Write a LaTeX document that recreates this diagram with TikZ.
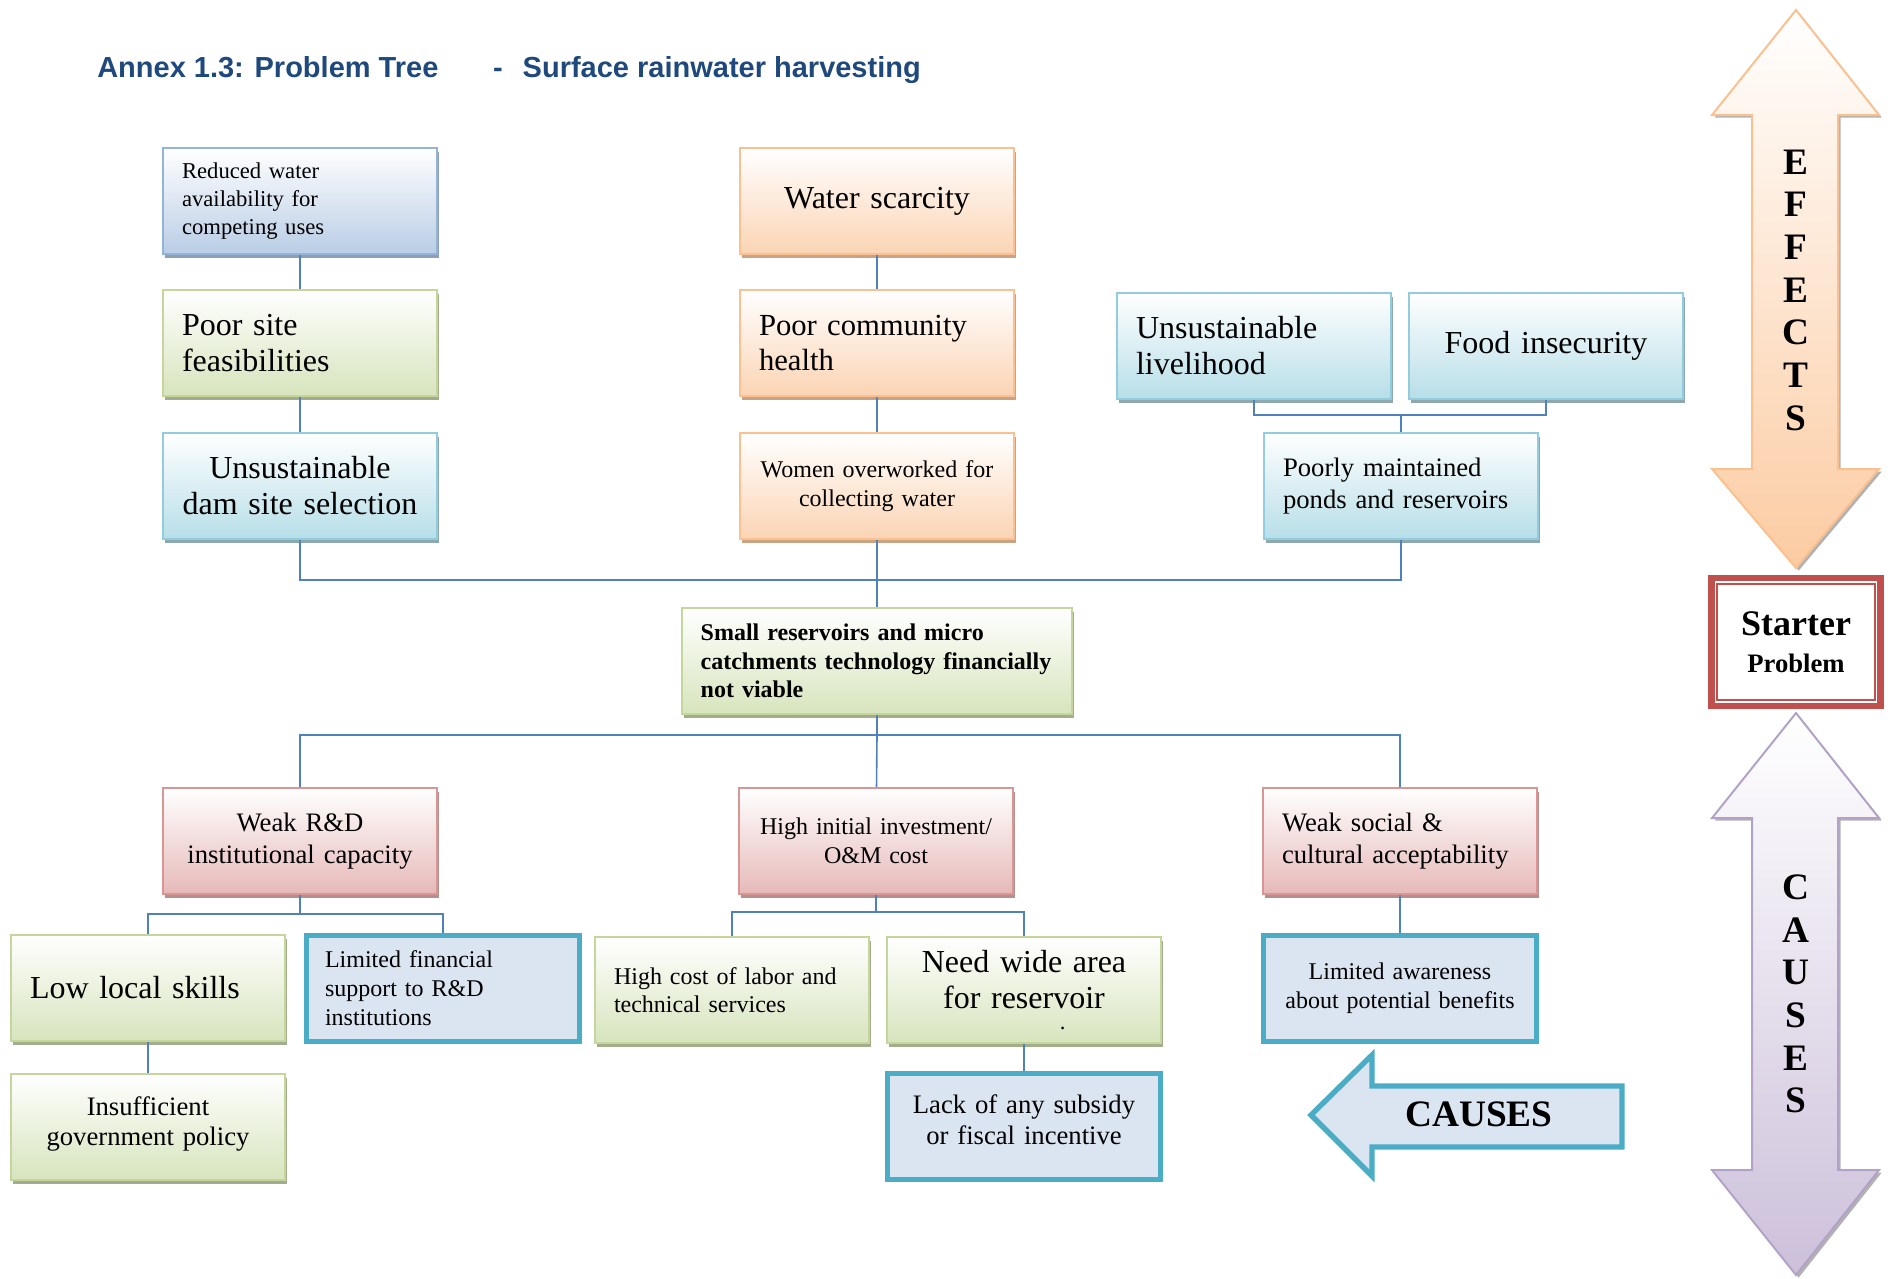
\documentclass[tikz,border=0pt]{standalone}
\usepackage{fontspec}
\setmainfont{Liberation Serif}
\newfontfamily\headfont{Liberation Sans}
\usetikzlibrary{
    shadows,
    calc
}

\definecolor{lnk}{HTML}{4F81BD}
\definecolor{titleblue}{HTML}{1F497D}
\definecolor{blueB}{HTML}{95B3D7}
\definecolor{blueF}{HTML}{B9CDE5}
\definecolor{blueS}{HTML}{8D9FB5}
\definecolor{greenB}{HTML}{C3D69B}
\definecolor{greenF}{HTML}{D7E4BD}
\definecolor{greenS}{HTML}{A4AC8E}
\definecolor{aquaB}{HTML}{93CDDD}
\definecolor{aquaF}{HTML}{B7DEE8}
\definecolor{aquaS}{HTML}{8EA8B0}
\definecolor{orangeB}{HTML}{FAC090}
\definecolor{orangeF}{HTML}{FBD4B4}
\definecolor{orangeS}{HTML}{C9A383}
\definecolor{redB}{HTML}{D99694}
\definecolor{redF}{HTML}{E6B9B8}
\definecolor{redS}{HTML}{B38F8E}
\definecolor{paleF}{HTML}{DBE5F1}
\definecolor{tealB}{HTML}{4BACC6}
\definecolor{purpleB}{HTML}{B3A2C7}
\definecolor{purpleF}{HTML}{CCC0DA}
\definecolor{starred}{HTML}{C0504D}

\newcommand\sizeL{\fontsize{24pt}{27pt}\selectfont}
\newcommand\sizeM{\fontsize{20pt}{24pt}\selectfont}
\newcommand\sizeS{\fontsize{18pt}{21.5pt}\selectfont}
\newcommand\sizeT{\fontsize{17pt}{21pt}\selectfont}

\tikzset{
    box/.style={draw, line width=1.5pt, minimum width=205pt, minimum height=79.5pt,
        text width=177pt, inner xsep=14pt, inner ysep=3pt},
    bluebox/.style={box, draw=blueB, top color=white, bottom color=blueF,
        drop shadow={shadow xshift=1.5pt, shadow yshift=-3pt, opacity=1, fill=blueS}},
    greenbox/.style={box, draw=greenB, top color=white, bottom color=greenF,
        drop shadow={shadow xshift=1.5pt, shadow yshift=-3pt, opacity=1, fill=greenS}},
    aquabox/.style={box, draw=aquaB, top color=white, bottom color=aquaF,
        drop shadow={shadow xshift=1.5pt, shadow yshift=-3pt, opacity=1, fill=aquaS}},
    orangebox/.style={box, draw=orangeB, top color=white, bottom color=orangeF,
        drop shadow={shadow xshift=1.5pt, shadow yshift=-3pt, opacity=1, fill=orangeS}},
    redbox/.style={box, draw=redB, top color=white, bottom color=redF,
        drop shadow={shadow xshift=1.5pt, shadow yshift=-3pt, opacity=1, fill=redS}},
    palebox/.style={box, draw=tealB, line width=3.75pt, fill=paleF},
    link/.style={draw=lnk, line width=1.2pt},
    bigarrow/.style={line width=1.5pt, line join=miter,
        drop shadow={shadow xshift=2pt, shadow yshift=-2pt, opacity=1, fill=black!30}},
    arrowtext/.style={font=\bfseries\fontsize{28pt}{32pt}\selectfont, align=center, inner sep=0pt}
}

\begin{document}
\begin{tikzpicture}[x=0.75pt, y=-0.75pt]
    \useasboundingbox (0,0) rectangle (1895,1278);

    \node[anchor=west, inner sep=0pt, text=titleblue,
        font=\headfont\bfseries\fontsize{21.75pt}{26pt}\selectfont] (title) at (97,70)
        {Annex 1.3: Problem Tree\hspace{41pt}-\hspace{15pt}Surface rainwater harvesting};

    \node[bluebox, align=left, font=\sizeT] (reduced) at (300,201) {Reduced water\\availability for\\competing uses};
    \node[greenbox, align=left, font=\sizeL] (site) at (300,343) {Poor site\\feasibilities};
    \node[aquabox, align=center, font=\sizeL] (dam) at (300,486) {Unsustainable\\dam site selection};

    \node[orangebox, align=center, font=\sizeL] (scarcity) at (877,201) {Water scarcity};
    \node[orangebox, align=left, font=\fontsize{23pt}{26.5pt}\selectfont] (health) at (877,343) {Poor community\\health};
    \node[orangebox, align=center, font=\sizeS] (women) at (877,486) {Women overworked for\\collecting water};

    \node[aquabox, align=left, font=\sizeL] (livelihood) at (1254,346) {Unsustainable\\livelihood};
    \node[aquabox, align=center, font=\sizeL] (food) at (1546,346) {Food insecurity};
    \node[aquabox, align=left, font=\sizeM] (ponds) at (1401,486) {Poorly maintained\\ponds and reservoirs};

    \node[greenbox, align=left, font=\bfseries\sizeS, minimum width=292.5pt, text width=264.5pt]
        (core) at (877,661) {Small reservoirs and micro\\catchments technology financially\\not viable};

    \node[redbox, align=center, font=\sizeM] (weakrd) at (300,841) {Weak R\&D\\institutional capacity};
    \node[redbox, align=center, font=\sizeS] (invest) at (876,841) {High initial investment/\\O\&M cost};
    \node[redbox, align=left, font=\sizeM] (social) at (1400,841) {Weak social \&\\cultural acceptability};

    \node[greenbox, align=left, font=\sizeL] (skills) at (148,988) {Low local skills};
    \node[palebox, align=left, font=\sizeS] (finance) at (443,988) {Limited financial\\support to R\&D\\institutions};
    \node[greenbox, align=left, font=\sizeS] (labor) at (732,990) {High cost of labor and\\technical services};
    \node[greenbox, align=center, font=\sizeL] (area) at (1024,990)
        {Need wide area\\for reservoir\\[-11pt]\hspace*{58pt}{\sizeT .}};
    \node[palebox, align=center, font=\sizeS] (awareness) at (1400,988) {Limited awareness\\about potential benefits};

    \node[greenbox, align=center, font=\fontsize{20pt}{22.5pt}\selectfont] (policy) at (148,1127)
        {Insufficient\\government policy\\[-13pt]\mbox{}};
    \node[palebox, align=center, font=\fontsize{20pt}{23pt}\selectfont] (subsidy) at (1024,1126)
        {Lack of any subsidy\\or fiscal incentive\\[-13pt]\mbox{}};

    \coordinate (jLive) at (1401,415);
    \coordinate (jTop) at (877,580);
    \coordinate (jMid) at (877,735);
    \coordinate (jRD) at (300,914);
    \coordinate (jInv) at (876,912);

    \draw[link] (reduced) -- (site);
    \draw[link] (site) -- (dam);
    \draw[link] (scarcity) -- (health);
    \draw[link] (health) -- (women);
    \draw[link] (women) -- (core);
    \draw[link] (livelihood.south) |- (jLive) -| (food.south);
    \draw[link] (jLive) -- (ponds);
    \draw[link] (dam.south) |- (jTop) -| (ponds.south);
    \draw[link] (core) -- (jMid);
    \draw[link] (weakrd.north) |- (jMid) -| (social.north);
    \draw[link] (jMid) -- (invest);
    \draw[link] (weakrd) -- (jRD);
    \draw[link] (skills.north) |- (jRD) -| (finance.north);
    \draw[link] (invest) -- (jInv);
    \draw[link] (labor.north) |- (jInv) -| (area.north);
    \draw[link] (skills) -- (policy);
    \draw[link] (area) -- (subsidy);
    \draw[link] (social) -- (awareness);

    \draw[bigarrow, draw=orangeB, top color=white, bottom color=orangeF!90!orange]
        (1796,10) -- (1879,115) -- (1838,115) -- (1838,469) -- (1879,469) -- (1796,568)
        -- (1712,469) -- (1752,469) -- (1752,115) -- (1712,115) -- cycle;
    \node[arrowtext] (effects) at (1796,290) {E\\F\\F\\E\\C\\T\\S};

    \node[draw=starred, line width=5pt, fill=white, minimum width=127pt, minimum height=96pt,
        align=center, inner sep=0pt, font=\bfseries\fontsize{27pt}{28pt}\selectfont] (starter) at (1796,642)
        {Starter\\{\fontsize{20pt}{24pt}\selectfont Problem}};
    \draw[draw=starred, line width=1.5pt] ([shift={(9,9)}]starter.north west) rectangle ([shift={(-9,-9)}]starter.south east);

    \draw[bigarrow, draw=purpleB, top color=white, bottom color=purpleF]
        (1796,713) -- (1879,818) -- (1838,818) -- (1838,1170) -- (1879,1170) -- (1796,1275)
        -- (1712,1170) -- (1752,1170) -- (1752,818) -- (1712,818) -- cycle;
    \node[arrowtext] (causes) at (1796,994) {C\\A\\U\\S\\E\\S};

    \draw[draw=tealB, fill=paleF, line width=4pt, line join=miter]
        (1311,1115) -- (1372,1055) -- (1372,1086) -- (1622,1086) -- (1622,1147)
        -- (1372,1147) -- (1372,1176) -- cycle;
    \node[font=\bfseries\fontsize{28pt}{32pt}\selectfont, inner sep=0pt] (causeslabel) at (1479,1114) {CAUSES};
\end{tikzpicture}
\end{document}
